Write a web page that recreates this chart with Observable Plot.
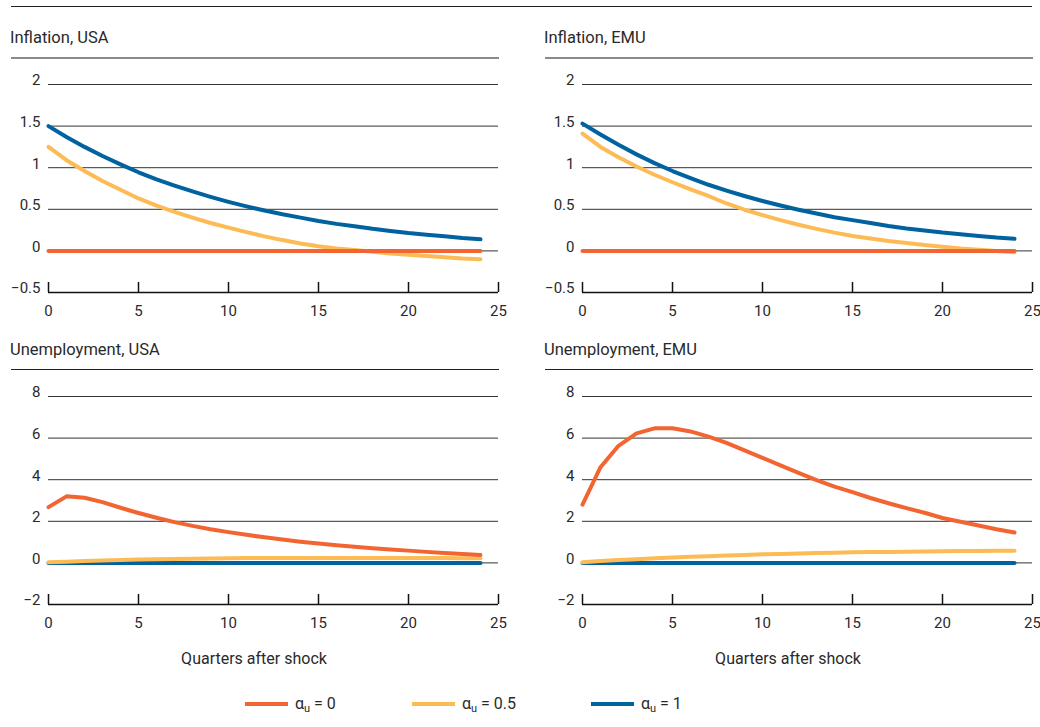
<!DOCTYPE html>
<html><head><meta charset="utf-8">
<script src="https://cdn.jsdelivr.net/npm/d3@7"></script>
<script src="https://cdn.jsdelivr.net/npm/@observablehq/plot@0.6"></script>
<style>
body{margin:0;background:#fff;}
#chart{position:relative;width:1040px;height:727px;font-family:Roboto,"Noto Sans",sans-serif;color:#222;overflow:hidden;}
.abs{position:absolute;}
.title{font-size:16.5px;line-height:1;white-space:nowrap;color:#2a2a2a;}
.rule{height:0;}
.xlab{font-size:16px;line-height:1;white-space:nowrap;transform:translateX(-50%);color:#2a2a2a;}
.sw{height:4px;width:43px;}
.lt{font-size:16px;line-height:1;white-space:nowrap;color:#2a2a2a;}
.lt sub{font-size:11px;vertical-align:-3px;}
</style></head>
<body><div id="chart"></div>
<script>
// ---- data ----
const quarters = [0,1,2,3,4,5,6,7,8,9,10,11,12,13,14,15,16,17,18,19,20,21,22,23,24];
const seriesKeys = ["αu = 0", "αu = 0.5", "αu = 1"];
const seriesColors = ["#f26532", "#fdbb55", "#00629e"];
const xTicks = [0,5,10,15,20,25];
const inflTicks = [-0.5,0,0.5,1,1.5,2];
const unempTicks = [-2,0,2,4,6,8];

// Inflation, USA
const inflUSA_a0  = [0,0,0,0,0,0,0,0,0,0,0,0,0,0,0,0,0,0,0,0,0,0,0,0,0];
const inflUSA_a05 = [1.25,1.09,0.96,0.84,0.735,0.63,0.545,0.47,0.40,0.335,0.28,0.225,0.175,0.13,0.09,0.055,0.03,0.01,-0.01,-0.03,-0.045,-0.06,-0.075,-0.09,-0.10];
const inflUSA_a1  = [1.50,1.37,1.25,1.14,1.04,0.945,0.86,0.785,0.715,0.65,0.59,0.535,0.485,0.44,0.40,0.36,0.325,0.295,0.265,0.24,0.215,0.195,0.175,0.155,0.14];
// Inflation, EMU
const inflEMU_a0  = [0,0,0,0,0,0,0,0,0,0,0,0,0,0,0,0,0,0,0,0,0,0,0,0,0];
const inflEMU_a05 = [1.41,1.25,1.125,1.015,0.915,0.825,0.74,0.66,0.57,0.495,0.43,0.37,0.315,0.265,0.22,0.18,0.15,0.12,0.095,0.07,0.05,0.03,0.015,0.0,-0.015];
const inflEMU_a1  = [1.53,1.40,1.275,1.16,1.055,0.96,0.875,0.795,0.725,0.66,0.60,0.545,0.495,0.45,0.405,0.37,0.335,0.30,0.27,0.245,0.22,0.20,0.18,0.16,0.145];
// Unemployment, USA
const unUSA_a0  = [2.68,3.20,3.13,2.92,2.65,2.40,2.17,1.96,1.78,1.62,1.48,1.35,1.23,1.12,1.02,0.93,0.85,0.78,0.71,0.65,0.59,0.53,0.48,0.43,0.38];
const unUSA_a05 = [0.03,0.06,0.09,0.12,0.14,0.16,0.18,0.19,0.20,0.21,0.22,0.23,0.23,0.24,0.24,0.24,0.24,0.24,0.24,0.24,0.23,0.23,0.23,0.22,0.22];
const unUSA_a1  = [0,0,0,0,0,0,0,0,0,0,0,0,0,0,0,0,0,0,0,0,0,0,0,0,0];
// Unemployment, EMU
const unEMU_a0  = [2.80,4.60,5.63,6.23,6.47,6.47,6.32,6.07,5.77,5.41,5.05,4.69,4.33,3.98,3.67,3.40,3.12,2.87,2.63,2.41,2.16,1.98,1.80,1.62,1.46];
const unEMU_a05 = [0.03,0.09,0.14,0.18,0.22,0.26,0.29,0.32,0.35,0.38,0.41,0.43,0.45,0.47,0.49,0.51,0.52,0.53,0.54,0.55,0.56,0.57,0.57,0.58,0.58];
const unEMU_a1  = [0,0,0,0,0,0,0,0,0,0,0,0,0,0,0,0,0,0,0,0,0,0,0,0,0];

const panelTitles = ["Inflation, USA", "Inflation, EMU", "Unemployment, USA", "Unemployment, EMU"];
const xLabel = "Quarters after shock";

// ---- layout ----
const chart = document.getElementById("chart");
function el(cls, style, html) {
  const d = document.createElement("div");
  d.className = "abs " + cls;
  Object.assign(d.style, style);
  if (html != null) d.innerHTML = html;
  chart.appendChild(d);
  return d;
}
// top rule
el("rule", {left: "11px", top: "6px", width: "1021px", borderTop: "1.5px solid #222"});

const fmt = d3.format("");
function panel(title, series, ticks, left, top, lower) {
  el("title", {left: (left + 10) + "px", top: (top + 30) + "px"}, title);
  el("rule", lower
    ? {left: (left + 11) + "px", top: (top + 57) + "px", width: "488px", borderTop: "1px solid #222"}
    : {left: (left + 11) + "px", top: (top + 56.5) + "px", width: "488px", borderTop: "2px solid #8a8a8a"});
  const data = [];
  // draw order: blue, yellow, orange
  [2, 1, 0].forEach(i => series[i].forEach((v, j) => data.push({q: quarters[j], v, s: seriesKeys[i]})));
  const lo = ticks[0];
  const p = Plot.plot({
    width: 510, height: 250,
    marginLeft: 48, marginRight: 12, marginTop: 14, marginBottom: 28,
    x: {domain: [0, 25]},
    y: {domain: [lo, ticks[ticks.length - 1]]},
    color: {domain: seriesKeys, range: seriesColors},
    style: {fontFamily: 'Roboto, sans-serif', fontSize: "15px", color: "#2a2a2a", background: "transparent"},
    marks: [
      Plot.axisX({ticks: xTicks, tickSize: 0, tickPadding: 13, label: null, tickFormat: fmt}),
      Plot.axisY({ticks: ticks, tickSize: 0, tickPadding: 8, dy: -4, label: null, tickFormat: fmt}),
      Plot.ruleY(ticks.slice(1), {stroke: "#333", strokeWidth: 1}),
      Plot.ruleY([lo], {stroke: "#111", strokeWidth: 1.5}),
      Plot.ruleX(xTicks, {stroke: "#111", strokeWidth: 1.5, insetTop: 198}),
      Plot.line(data, {x: "q", y: "v", z: "s", stroke: "s", strokeWidth: 4})
    ]
  });
  p.style.position = "absolute";
  p.style.left = left + "px";
  p.style.top = (top + 70) + "px";
  chart.appendChild(p);
  if (lower) el("xlab", {left: (left + 254) + "px", top: (top + 339) + "px"}, xLabel);
}
panel(panelTitles[0], [inflUSA_a0, inflUSA_a05, inflUSA_a1], inflTicks, 0, 0, false);
panel(panelTitles[1], [inflEMU_a0, inflEMU_a05, inflEMU_a1], inflTicks, 534, 0, false);
panel(panelTitles[2], [unUSA_a0, unUSA_a05, unUSA_a1], unempTicks, 0, 312, true);
panel(panelTitles[3], [unEMU_a0, unEMU_a05, unEMU_a1], unempTicks, 534, 312, true);

// legend
const legendX = [245, 412, 591];
seriesKeys.forEach((k, i) => {
  el("sw", {left: legendX[i] + "px", top: "702px", background: seriesColors[i]});
  const parts = k.split(" = ");
  el("lt", {left: (legendX[i] + 50) + "px", top: "696px"}, "α<sub>u</sub> = " + parts[1]);
});
</script>
</body></html>
